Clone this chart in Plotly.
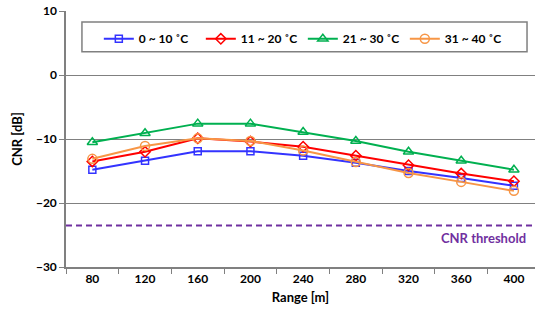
import plotly.graph_objects as go

ranges = ["80", "120", "160", "200", "240", "280", "320", "360", "400"]
s_0_10 = [-14.8, -13.4, -11.9, -11.9, -12.6, -13.7, -15.0, -16.1, -17.3]
s_11_20 = [-13.5, -12.0, -9.9, -10.4, -11.2, -12.6, -14.1, -15.4, -16.6]
s_21_30 = [-10.5, -9.1, -7.6, -7.6, -8.9, -10.3, -12.0, -13.4, -14.8]
s_31_40 = [-13.1, -11.1, -9.9, -10.3, -11.8, -13.6, -15.3, -16.7, -18.1]
names = ["0 ~ 10 ˚C", "11 ~ 20 ˚C", "21 ~ 30 ˚C", "31 ~ 40 ˚C"]
threshold = -23.5
y_ticks = [10, 0, -10, -20, -30]

colors = ["#3333FF", "#FF0000", "#00B050", "#F79646"]
symbols = ["square-open", "diamond-open", "triangle-up-open", "circle-open"]
sizes = [7, 8, 9, 9]

FONT = "Lato"
fig = go.Figure()
for vals, name, c, sym, sz in zip([s_0_10, s_11_20, s_21_30, s_31_40], names, colors, symbols, sizes):
    fig.add_trace(go.Scatter(
        x=ranges, y=vals, name=name, mode="lines+markers",
        line=dict(color=c, width=2),
        marker=dict(symbol=sym, size=sz, color=c, line=dict(color=c, width=1.5)),
    ))

fig.add_shape(type="line", xref="paper", x0=0, x1=1, yref="y", y0=threshold, y1=threshold,
              line=dict(color="#7030A0", width=2, dash="6px,4px"))
fig.add_annotation(xref="paper", x=0.985, yref="y", y=threshold, yshift=-13, text="CNR threshold",
                   showarrow=False, xanchor="right",
                   font=dict(family=FONT, size=13, color="#7030A0", weight="bold"))
# legend box
fig.add_shape(type="rect", xref="paper", yref="paper", x0=0.034, x1=0.983, y0=0.841, y1=0.957,
              line=dict(color="#808080", width=1.5), fillcolor="rgba(0,0,0,0)", layer="above")

fig.update_layout(
    width=535, height=322,
    margin=dict(l=66, r=0, t=11, b=55),
    paper_bgcolor="white", plot_bgcolor="white",
    showlegend=True,
    legend=dict(orientation="h", x=0.07, y=0.948, xanchor="left", yanchor="top",
                entrywidth=57, font=dict(family=FONT, size=12, color="black", weight="bold"),
                bgcolor="rgba(0,0,0,0)", borderwidth=0, tracegroupgap=0),
    font=dict(family=FONT, color="black"),
)
fig.update_xaxes(
    type="category", range=[-0.5, 8.4], showgrid=False, showline=True, linecolor="#808080", linewidth=1.5,
    ticks="outside", tickson="boundaries", ticklen=5, tickcolor="#808080",
    tickfont=dict(family=FONT, size=12, color="black", weight="bold"),
    title=dict(text="Range [m]", font=dict(family=FONT, size=13, color="black", weight="bold"), standoff=8),
)
fig.update_yaxes(
    range=[-30, 10], tickvals=y_ticks, showgrid=True, gridcolor="#808080", gridwidth=1.2,
    showline=True, linecolor="#808080", linewidth=1.5, ticks="outside", ticklen=5, tickcolor="#808080",
    zeroline=False,
    tickfont=dict(family=FONT, size=12, color="black", weight="bold"),
    title=dict(text="CNR [dB]", font=dict(family=FONT, size=13, color="black", weight="bold"), standoff=10),
)
fig.write_html("out.html", post_script="document.body.style.margin='0px';",
               config={"displayModeBar": False})
